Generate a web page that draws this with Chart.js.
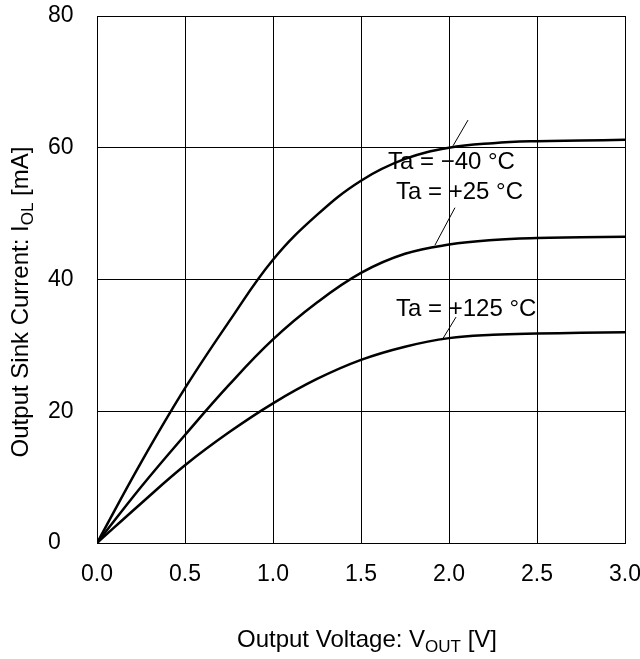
<!DOCTYPE html>
<html>
<head>
<meta charset="utf-8">
<script src="https://cdn.jsdelivr.net/npm/chart.js@4/dist/chart.umd.min.js"></script>
<style>
  html, body { margin: 0; padding: 0; background: #fff; }
  #wrap { width: 640px; height: 659px; }
</style>
</head>
<body>
<div id="wrap"><canvas id="result" width="640" height="659"></canvas></div>
<script>
"use strict";
// data
const voltage = [0, 0.25, 0.5, 0.75, 1.0, 1.25, 1.5, 1.75, 2.0, 2.25, 2.5, 2.75, 3.0];
const sinkM40 = [0, 12.2, 23.5, 33.6, 43.0, 49.8, 55.0, 58.3, 60.0, 60.7, 61.0, 61.1, 61.2];
const sinkP25 = [0, 8.5, 16.4, 24.0, 30.9, 36.5, 41.0, 43.9, 45.3, 46.0, 46.3, 46.4, 46.5];
const sinkP125 = [0, 6.0, 11.8, 16.8, 21.2, 24.9, 27.8, 29.8, 31.1, 31.6, 31.8, 31.9, 32.0];
const seriesNames = ["Ta = \u221240 \u00B0C", "Ta = +25 \u00B0C", "Ta = +125 \u00B0C"];
const xTicks = [0, 0.5, 1.0, 1.5, 2.0, 2.5, 3.0];
const yTicks = [0, 20, 40, 60, 80];

const FONT = "Arial, 'Liberation Sans', sans-serif";
const FSIZE = 24;
const TICKSIZE = 23;

function toPoints(ys) {
  return voltage.map((v, i) => ({ x: v, y: ys[i] }));
}

function curve(ys) {
  return {
    data: toPoints(ys),
    showLine: true,
    borderColor: "#000",
    borderWidth: 2.5,
    pointRadius: 0,
    fill: false,
    tension: 0.4,
  };
}

// callouts: text spot and leader line, in axis units
const callouts = [
  { text: seriesNames[0], tx: 1.653, ty: 57.8, line: [2.108, 64.2, 2.023, 60.3] },
  { text: seriesNames[1], tx: 1.699, ty: 53.3, line: [2.034, 50.9, 1.920, 45.2] },
  { text: seriesNames[2], tx: 1.699, ty: 35.4, line: [2.040, 34.3, 1.960, 30.8] },
];

// draw text with a subscript part
function subText(ctx, parts, x, y, align) {
  const big = FSIZE + "px " + FONT;
  const small = Math.round(FSIZE * 0.7) + "px " + FONT;
  let total = 0;
  parts.forEach((p) => {
    ctx.font = p.sub ? small : big;
    total += ctx.measureText(p.t).width;
  });
  let cx = align === "center" ? x - total / 2 : x;
  ctx.textAlign = "left";
  ctx.textBaseline = "middle";
  parts.forEach((p) => {
    ctx.font = p.sub ? small : big;
    ctx.fillText(p.t, cx, p.sub ? y + FSIZE * 0.3 : y);
    cx += ctx.measureText(p.t).width;
  });
}

const decor = {
  id: "decor",
  afterDraw(chart) {
    const ctx = chart.ctx;
    const xs = chart.scales.x;
    const ys = chart.scales.y;
    ctx.save();
    ctx.fillStyle = "#000";
    ctx.strokeStyle = "#000";
    ctx.lineWidth = 1;
    callouts.forEach((c) => {
      ctx.beginPath();
      ctx.moveTo(xs.getPixelForValue(c.line[0]), ys.getPixelForValue(c.line[1]));
      ctx.lineTo(xs.getPixelForValue(c.line[2]), ys.getPixelForValue(c.line[3]));
      ctx.stroke();
      ctx.font = FSIZE + "px " + FONT;
      ctx.textAlign = "left";
      ctx.textBaseline = "middle";
      ctx.fillText(c.text, xs.getPixelForValue(c.tx), ys.getPixelForValue(c.ty));
    });
    // x title
    subText(ctx, [{ t: "Output Voltage: V" }, { t: "OUT", sub: true }, { t: " [V]" }], 367, 640, "center");
    // y title
    ctx.translate(21, 302);
    ctx.rotate(-Math.PI / 2);
    subText(ctx, [{ t: "Output Sink Current: I" }, { t: "OL", sub: true }, { t: " [mA]" }], 0, 0, "center");
    ctx.restore();
  },
};

new Chart("result", {
  type: "scatter",
  data: {
    datasets: [curve(sinkM40), curve(sinkP25), curve(sinkP125)],
  },
  options: {
    responsive: false,
    animation: false,
    layout: { padding: { left: 48, right: 15, top: 16, bottom: 0 } },
    plugins: {
      legend: { display: false },
      tooltip: { enabled: false },
    },
    scales: {
      x: {
        type: "linear",
        min: 0,
        max: 3,
        afterBuildTicks: (s) => { s.ticks = xTicks.map((v) => ({ value: v })); },
        afterFit: (s) => { s.height = 116; s.paddingLeft = 0; s.paddingRight = 0; },
        ticks: {
          color: "#000",
          font: { family: FONT, size: TICKSIZE },
          padding: 18,
          maxRotation: 0,
          callback: (v) => Number(v).toFixed(1),
        },
        grid: { color: "#000", lineWidth: 1, drawTicks: false },
        border: { color: "#000", width: 1 },
      },
      y: {
        type: "linear",
        min: 0,
        max: 80,
        afterBuildTicks: (s) => { s.ticks = yTicks.map((v) => ({ value: v })); },
        afterFit: (s) => { s.width = 49; s.paddingTop = 0; s.paddingBottom = 0; },
        ticks: {
          color: "#000",
          font: { family: FONT, size: TICKSIZE },
          crossAlign: "far",
          padding: 8,
        },
        grid: { color: "#000", lineWidth: 1, drawTicks: false },
        border: { color: "#000", width: 1 },
      },
    },
  },
  plugins: [decor],
});
</script>
</body>
</html>
